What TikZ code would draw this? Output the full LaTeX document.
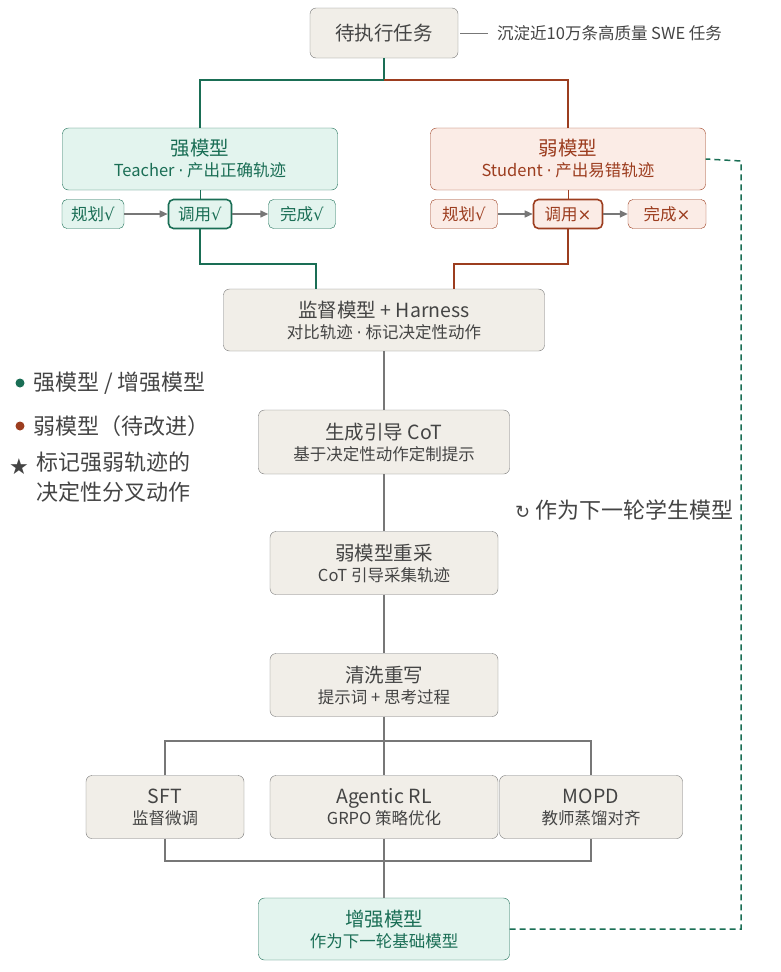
\documentclass[tikz,border=0pt]{standalone}
\usepackage{fontspec}
\setmainfont{Noto Sans CJK SC}
\newfontfamily\symf{DejaVu Sans}
\usetikzlibrary{positioning,arrows.meta}
\definecolor{sgreen}{HTML}{1A6E55}
\definecolor{sgreenfill}{HTML}{E3F4EE}
\definecolor{wred}{HTML}{9C3D1F}
\definecolor{wredfill}{HTML}{FBECE6}
\definecolor{boxfill}{HTML}{F1EEE8}
\definecolor{gline}{HTML}{777777}
\definecolor{gtext}{HTML}{444444}
\newcommand{\subtxt}{\fontsize{16.5}{19}\selectfont}
\newcommand{\ok}{{\symf √}}
\newcommand{\bad}{{\symf ×}}
\newcommand{\md}{{\symf ·}}
\tikzset{
 box/.style={draw=gline,fill=boxfill,rounded corners=6pt,minimum height=62pt,align=center,text=gtext,font=\fontsize{19.5}{23}\selectfont},
 gbox/.style={box,draw=sgreen,fill=sgreenfill,text=sgreen},
 rbox/.style={box,draw=wred,fill=wredfill,text=wred},
 stepbox/.style={draw,rounded corners=5pt,minimum height=29pt,inner sep=1pt,font=\subtxt},
 gstep/.style={stepbox,draw=sgreen,fill=sgreenfill,text=sgreen},
 rstep/.style={stepbox,draw=wred,fill=wredfill,text=wred},
 legend/.style={anchor=west,text=gtext,font=\fontsize{22}{26}\selectfont,inner sep=0pt},
 flow/.style={draw=gline,line width=1.2pt},
 stepar/.style={draw=gline,line width=1.4pt,-{Triangle[length=8pt,width=7pt]}},
}
\begin{document}
\begin{tikzpicture}[x=1pt,y=-1pt]
\useasboundingbox (0,0) rectangle (780,972);
% top
\node[box,minimum width=148pt,minimum height=50pt] (task) at (384,33) {待执行任务};
\node[anchor=west,text=gtext,font=\subtxt,inner sep=0pt] (note) at (497,33) {沉淀近10万条高质量 SWE 任务};
\draw[gline,line width=0.8pt] (task.east) ++(2,0) -- ++(28,0);
% strong / weak
\node[gbox,minimum width=275pt] (strong) at (200,159) {强模型\\[-2pt]{\subtxt Teacher \md{} 产出正确轨迹}};
\node[rbox,minimum width=275pt] (weak) at (568,159) {弱模型\\[-2pt]{\subtxt Student \md{} 产出易错轨迹}};
\node[gstep,minimum width=62pt] (gplan) at (93,214) {规划\ok};
\node[gstep,minimum width=63pt,line width=1.6pt] (gcall) at (200,214) {调用\ok};
\node[gstep,minimum width=67pt] (gdone) at (302,214) {完成\ok};
\node[rstep,minimum width=67pt] (rplan) at (464,214) {规划\ok};
\node[rstep,minimum width=69pt,line width=1.6pt] (rcall) at (568,214) {调用\bad};
\node[rstep,minimum width=78pt] (rdone) at (667,214) {完成\bad};
\draw[stepar] (gplan) -- (gcall);
\draw[stepar] (gcall) -- (gdone);
\draw[stepar] (rplan) -- (rcall);
\draw[stepar] (rcall) -- (rdone);
\coordinate (split) at (384,80);
\draw[sgreen,line width=1.5pt] (task.south) -- (split) -| (strong.north);
\draw[wred,line width=1.5pt] (split) -| (weak.north);
% supervisor
\node[box,minimum width=321pt] (judge) at (384,320) {监督模型 + Harness\\[-2pt]{\subtxt 对比轨迹 \md{} 标记决定性动作}};
\draw[sgreen,line width=1pt] (strong.south) -- (gcall.north);
\draw[wred,line width=1pt] (weak.south) -- (rcall.north);
\draw[sgreen,line width=1.5pt] (gcall.south) |- (316,264) -- (316,289);
\draw[wred,line width=1.5pt] (rcall.south) |- (454,264) -- (454,289);
% pipeline
\node[box,minimum width=251pt,minimum height=64pt] (cot) at (384,442) {生成引导 CoT\\[-2pt]{\subtxt 基于决定性动作定制提示}};
\node[box,minimum width=228pt,minimum height=63pt] (resample) at (384,563) {弱模型重采\\[-2pt]{\subtxt CoT 引导采集轨迹}};
\node[box,minimum width=228pt,minimum height=63pt] (clean) at (384,685) {清洗重写\\[-2pt]{\subtxt 提示词 + 思考过程}};
\draw[flow] (judge) -- (cot);
\draw[flow] (cot) -- (resample);
\draw[flow] (resample) -- (clean);
% training
\node[box,minimum width=158pt,minimum height=63pt] (sft) at (165,807) {SFT\\[-2pt]{\subtxt 监督微调}};
\node[box,minimum width=228pt,minimum height=63pt] (rl) at (384,807) {Agentic RL\\[-2pt]{\subtxt GRPO 策略优化}};
\node[box,minimum width=183pt,minimum height=63pt] (mopd) at (591,807) {MOPD\\[-2pt]{\subtxt 教师蒸馏对齐}};
\coordinate (fan) at (384,741);
\coordinate (join) at (384,861);
\draw[flow] (clean) -- (rl);
\draw[flow] (sft.north) |- (fan) -| (mopd.north);
\draw[flow] (sft.south) |- (join) -| (mopd.south);
\draw[flow] (rl) -- (join);
\node[gbox,minimum width=251pt] (better) at (384,929) {增强模型\\[-2pt]{\subtxt 作为下一轮基础模型}};
\draw[flow] (join) -- (better);
% loop back
\coordinate (loopr) at (741,161);
\draw[sgreen,line width=1.5pt,dash pattern=on 6pt off 4pt] (better.east) -| (loopr) -- (weak.east);
\node[legend] (looplbl) at (515,510) {{\symf\fontsize{18}{20}\selectfont ↻} 作为下一轮学生模型};
% legend
\fill[sgreen] (20,383) circle (4.5pt);
\node[legend] (lg1) at (33,383) {强模型 / 增强模型};
\fill[wred] (20,426) circle (4.5pt);
\node[legend] (lg2) at (33,426) {弱模型（待改进）};
\node[legend] (lg3) at (9,467) {{\symf ★}};
\node[legend,anchor=north west,align=left,font=\fontsize{22}{30}\selectfont] (lg4) at (36,452) {标记强弱轨迹的\\决定性分叉动作};
\end{tikzpicture}
\end{document}
